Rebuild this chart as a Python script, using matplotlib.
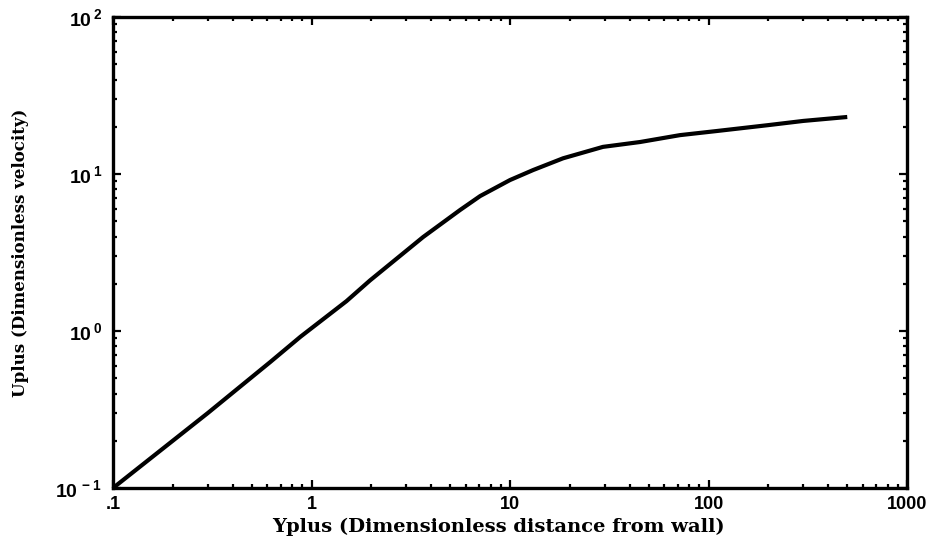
import matplotlib
matplotlib.use("Agg")
import matplotlib.pyplot as plt
from matplotlib.ticker import FixedLocator, FixedFormatter, LogLocator, NullFormatter

# Dimensionless velocity profile near a wall
yplus = [0.1, 0.3, 0.62, 0.88, 1.5, 1.97, 3.65, 5.6, 7.07, 10.0, 13.06,
         18.5, 29.4, 45.2, 71.8, 110, 200, 300, 500]
uplus = [0.1, 0.3, 0.635, 0.92, 1.55, 2.1, 3.97, 5.9, 7.24, 9.16, 10.6,
         12.6, 14.9, 16.0, 17.7, 18.8, 20.5, 21.8, 23.1]

x_ticks = [0.1, 1, 10, 100, 1000]
x_tick_labels = [".1", "1", "10", "100", "1000"]
y_ticks = [0.1, 1, 10, 100]
y_tick_labels = [r"$10^{\,-1}$", r"$10^{\,0}$", r"$10^{\,1}$", r"$10^{\,2}$"]

plt.rcParams["mathtext.fontset"] = "custom"
plt.rcParams["mathtext.rm"] = "Liberation Sans:bold"
plt.rcParams["mathtext.bf"] = "Liberation Sans:bold"
plt.rcParams["mathtext.default"] = "rm"

fig = plt.figure(figsize=(9.37, 5.51), dpi=100)
ax = fig.add_axes([0.1206, 0.1143, 0.968 - 0.1206, 0.969 - 0.1143])

ax.plot(yplus, uplus, color="black", lw=3.0, solid_capstyle="butt",
        solid_joinstyle="round")

ax.set_xscale("log")
ax.set_yscale("log")
ax.set_xlim(0.1, 1000)
ax.set_ylim(0.1, 100)

ax.xaxis.set_major_locator(FixedLocator(x_ticks))
ax.xaxis.set_major_formatter(FixedFormatter(x_tick_labels))
ax.yaxis.set_major_locator(FixedLocator(y_ticks))
ax.yaxis.set_major_formatter(FixedFormatter(y_tick_labels))
for axis in (ax.xaxis, ax.yaxis):
    axis.set_minor_locator(LogLocator(base=10, subs=range(2, 10), numticks=20))
    axis.set_minor_formatter(NullFormatter())

ax.tick_params(which="both", direction="in", top=True, right=True,
               width=1.6, color="black")
ax.tick_params(which="major", length=6, pad=9)
ax.tick_params(which="minor", length=3)
ax.tick_params(axis="x", which="major", labelsize=13, pad=6)
ax.tick_params(axis="y", which="major", labelsize=14, pad=8)
for lab in ax.get_xticklabels() + ax.get_yticklabels():
    lab.set_fontfamily("Liberation Sans")
    lab.set_fontweight("bold")

for sp in ax.spines.values():
    sp.set_linewidth(2.4)

ax.set_xlabel("Yplus (Dimensionless distance from wall)",
              family="DejaVu Serif", fontweight="bold", fontsize=14)
ax.xaxis.set_label_coords(0.485, -0.064)
ax.set_ylabel("Uplus (Dimensionless velocity)",
              family="DejaVu Serif", fontweight="bold", fontsize=12)
ax.yaxis.set_label_coords(-0.106, 0.5)

fig.savefig("out.png", dpi=100, facecolor="white")
